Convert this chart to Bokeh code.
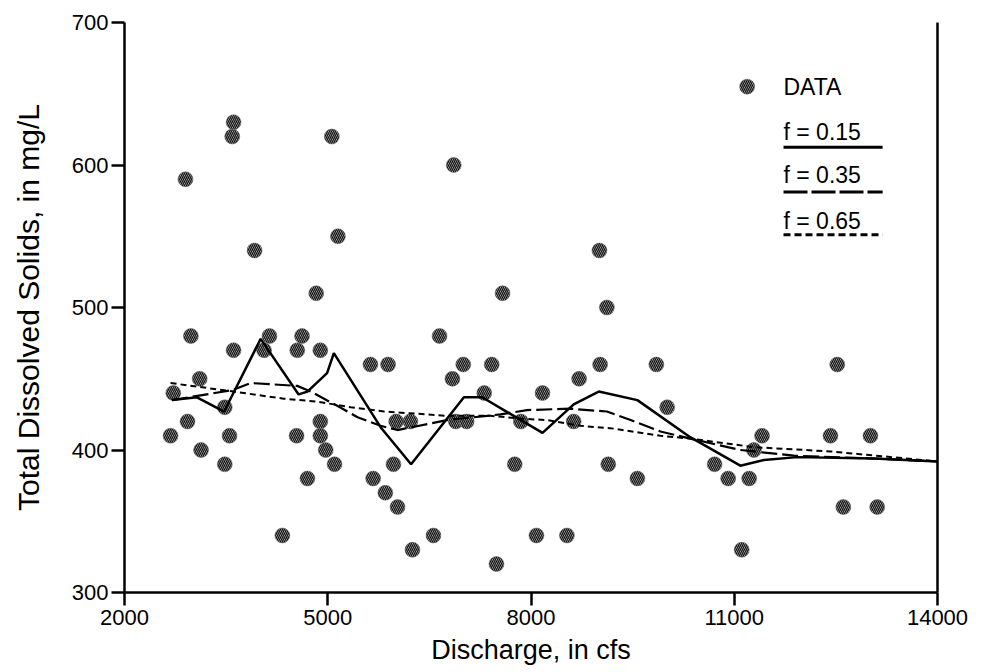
from bokeh.plotting import figure
from bokeh.models import Range1d, FixedTicker, LinearAxis
from bokeh.core.properties import value
from bokeh.embed import file_html
from bokeh.resources import INLINE

# ---- data ----
discharge = [2680, 2720, 2900, 2930, 2980, 3110, 3130, 3480, 3480, 3550, 3590, 3610, 3610,
             3920, 4060, 4140, 4330, 4540, 4550, 4620, 4700, 4830, 4890, 4890, 4890, 4970,
             5060, 5100, 5150, 5630, 5670, 5850, 5890, 5970, 6010, 6030, 6220, 6250, 6560,
             6650, 6840, 6860, 6890, 7000, 7050, 7310, 7420, 7490, 7580, 7760, 7850, 8080,
             8170, 8530, 8630, 8710, 9010, 9020, 9120, 9140, 9570, 9850, 10010, 10710, 10910,
             11110, 11220, 11290, 11410, 12420, 12520, 12610, 13010, 13110]
tds = [410, 440, 590, 420, 480, 450, 400, 430, 390, 410, 620, 630, 470,
       540, 470, 480, 340, 410, 470, 480, 380, 510, 470, 420, 410, 400,
       620, 390, 550, 460, 380, 370, 460, 390, 420, 360, 420, 330, 340,
       480, 450, 600, 420, 460, 420, 440, 460, 320, 510, 390, 420, 340,
       440, 340, 420, 450, 540, 460, 500, 390, 380, 460, 430, 390, 380,
       330, 380, 400, 410, 410, 460, 360, 410, 360]

f15_x = [2700, 3070, 3470, 4010, 4570, 4700, 4990, 5090, 5780, 6230, 7010, 7280, 8170, 8630,
         9000, 9570, 10350, 11090, 11440, 11930, 13060, 14000]
f15_y = [435, 437, 427, 478, 439, 441, 454, 468, 416, 390, 437, 437, 412, 432,
         441, 435, 409, 389, 393, 395, 394, 392]

f35_x = [2700, 3590, 3860, 4550, 4750, 5140, 5440, 5780, 6030, 6760, 7550, 7940, 8580, 9120,
         9470, 9910, 10350, 11090, 11880, 13060, 14000]
f35_y = [435, 442, 447, 445, 441, 431, 423, 417, 414, 421, 425, 428, 429, 427,
         421, 413, 408, 400, 396, 394, 392]

f65_x = [2680, 3610, 4350, 4840, 5340, 5830, 6760, 7400, 7850, 8240, 8730, 9220, 9910, 10350,
         11290, 12420, 14000]
f65_y = [447, 441, 436, 434, 430, 427, 424, 424, 422, 421, 417, 415, 410, 408,
         402, 399, 392]

x_ticks = [2000, 5000, 8000, 11000, 14000]
y_ticks = [300, 400, 500, 600, 700]

legend_labels = ["DATA", "f = 0.15", "f = 0.35", "f = 0.65"]

FONT = "Liberation Sans"

p = figure(output_backend="svg", toolbar_location=None,
           width=973, height=664,
           frame_width=813, frame_height=570,
           min_border_left=124, min_border_top=22, min_border_right=36, min_border_bottom=72,
           x_range=Range1d(2000, 14000), y_range=Range1d(300, 700),
           x_axis_label="Discharge, in cfs",
           y_axis_label="Total Dissolved Solids, in mg/L")

p.grid.visible = False
p.outline_line_color = None
p.background_fill_color = "white"
p.border_fill_color = "white"

for ax in (p.xaxis[0], p.yaxis[0]):
    ax.axis_line_width = 2.5
    ax.axis_line_color = "black"
    ax.major_tick_line_width = 2.5
    ax.major_tick_line_color = "black"
    ax.major_tick_out = 13
    ax.major_tick_in = 0
    ax.minor_tick_line_color = None
    ax.major_label_text_font = FONT
    ax.major_label_text_font_size = "22px"
    ax.major_label_text_color = "black"
    ax.axis_label_text_font = FONT
    ax.axis_label_text_font_style = "normal"
    ax.axis_label_text_color = "black"

p.xaxis[0].axis_label_text_font_size = "27px"
p.yaxis[0].axis_label_text_font_size = "30px"
p.xaxis[0].ticker = FixedTicker(ticks=x_ticks)
p.yaxis[0].ticker = FixedTicker(ticks=y_ticks)
p.xaxis[0].major_label_standoff = 4
p.yaxis[0].major_label_standoff = 3
p.xaxis[0].axis_label_standoff = 7
p.yaxis[0].axis_label_standoff = 24

right_axis = LinearAxis(ticker=FixedTicker(ticks=[]), axis_line_width=2.5,
                        axis_line_color="black", major_tick_line_color=None,
                        minor_tick_line_color=None, major_label_text_font_size="0px")
p.add_layout(right_axis, "right")

marker_kw = dict(size=15, fill_color="#c4c4c4", line_color="#666666", line_width=0.5,
                 hatch_pattern="\\", hatch_color="#111111", hatch_weight=1.3, hatch_scale=4)

p.scatter(discharge, tds, marker="circle", **marker_kw)

p.line(f15_x, f15_y, line_color="black", line_width=2.5)
p.line(f35_x, f35_y, line_color="black", line_width=2.2, line_dash="16 5")
p.line(f65_x, f65_y, line_color="black", line_width=2.0, line_dash="6 4")

# ---- legend (positions in data units, styling only) ----
leg_marker_x, leg_text_x, leg_line_x1 = 11190, 11727, 13190
p.scatter([leg_marker_x], [655], marker="circle", **marker_kw)
p.text([leg_text_x] * 4, [655, 623, 593, 561], text=legend_labels,
       text_font=value(FONT), text_font_size="23px", text_color="black",
       text_baseline="middle", text_align="left")
p.line([leg_text_x, leg_line_x1], [612.5, 612.5], line_color="black", line_width=3)
p.line([leg_text_x, leg_line_x1], [581, 581], line_color="black", line_width=3, line_dash="24 4")
p.line([leg_text_x, leg_line_x1], [551, 551], line_color="black", line_width=3, line_dash="7 4")

open("out.html", "w").write(file_html(p, INLINE))
